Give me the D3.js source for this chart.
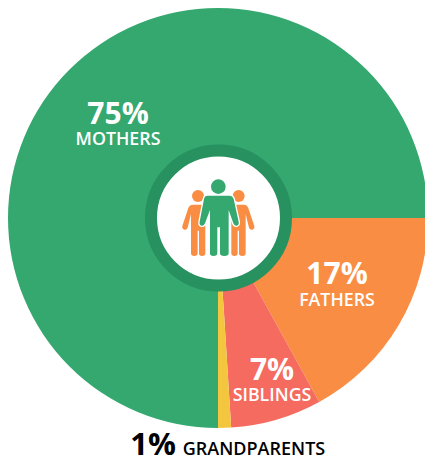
<!DOCTYPE html>
<html>
<head>
<meta charset="utf-8">
<script src="https://cdn.jsdelivr.net/npm/d3@7"></script>
<style>
  html, body { margin: 0; padding: 0; background: #fff; }
  svg { display: block; }
  text { font-family: "Open Sans", sans-serif; text-anchor: middle; }
</style>
</head>
<body>
<svg id="chart" width="425" height="458"></svg>
<script>
// Who the respondents named, clockwise from three o'clock
const categories = ["FATHERS", "SIBLINGS", "GRANDPARENTS", "MOTHERS"];
const shares = [17, 7, 1, 75];
const sliceColours = ["#f98d43", "#f56b5f", "#f4c63f", "#34a86f"];

const width = 425, height = 458;
const cx = 218, cy = 218, radius = 210;

const svg = d3.select("#chart");
const chart = svg.append("g").attr("transform", `translate(${cx},${cy})`);

const pie = d3.pie().sort(null)
  .startAngle(Math.PI / 2)
  .endAngle(Math.PI * 2.5);
const arc = d3.arc().innerRadius(0).outerRadius(radius);

chart.selectAll("path.slice")
  .data(pie(shares))
  .join("path")
  .attr("class", "slice")
  .attr("d", arc)
  .attr("fill", (d, i) => sliceColours[i]);

// Centre badge
chart.append("circle").attr("cx", 0.5).attr("r", 67.5).attr("fill", "#fff")
  .attr("stroke", "#27915f").attr("stroke-width", 12);

// Family pictogram, drawn on a 3x grid and scaled down
const icon = svg.append("g").attr("transform", "translate(130,130) scale(0.3333)");
const sidePerson = "M190,224 H226 V370 Q226,378 216,378 Q207,378 207,370 V302 H203 V370 Q203,378 193,378 Q183,378 183,370 V252 L173,293 Q170,301 163,299 Q155,296 157,288 L175,234 Q178,224 190,224 Z";
const middlePerson = "M232,197 H298 Q308,197 311,207 L326,275 Q328,285 320,287 Q313,288 310,280 L296,240 V370 Q296,378 283,378 Q270,378 270,370 V292 H262 V370 Q262,378 250,378 Q240,378 240,370 V240 L225,280 Q222,288 215,287 Q207,285 209,275 L222,207 Q224,197 232,197 Z";
[1, -1].forEach(dir => {
  const side = icon.append("g")
    .attr("transform", dir === 1 ? null : "translate(530,0) scale(-1,1)");
  side.append("circle").attr("cx", 204).attr("cy", 198).attr("r", 18).attr("fill", "#f98d43");
  side.append("path").attr("d", sidePerson).attr("fill", "#f98d43");
});
icon.append("circle").attr("cx", 265).attr("cy", 170).attr("r", 22).attr("fill", "#34a86f");
icon.append("path").attr("d", middlePerson).attr("fill", "#34a86f")
  .attr("stroke", "#fff").attr("stroke-width", 8).attr("paint-order", "stroke");

// Slice labels
const labelSpots = [
  { x: 337, big: 284, small: 306, colour: "#fff" },
  { x: 272, big: 380, small: 401, colour: "#fff" },
  null,
  { x: 118, big: 124, small: 145, colour: "#fff" }
];
categories.forEach((name, i) => {
  const spot = labelSpots[i];
  if (!spot) return;
  svg.append("text").attr("x", spot.x).attr("y", spot.big)
    .attr("fill", spot.colour).attr("font-size", 30).attr("font-weight", 700)
    .text(shares[i] + "%");
  svg.append("text").attr("x", spot.x).attr("y", spot.small)
    .attr("fill", spot.colour).attr("font-size", 17.8).attr("font-weight", 600)
    .text(name);
});

// The smallest slice is labelled below the pie
svg.append("text").attr("x", 153).attr("y", 455)
  .attr("fill", "#000").attr("font-size", 31).attr("font-weight", 700)
  .text(shares[2] + "%");
svg.append("text").attr("x", 254).attr("y", 455)
  .attr("fill", "#000").attr("font-size", 18).attr("font-weight", 600)
  .text(categories[2]);
</script>
</body>
</html>
